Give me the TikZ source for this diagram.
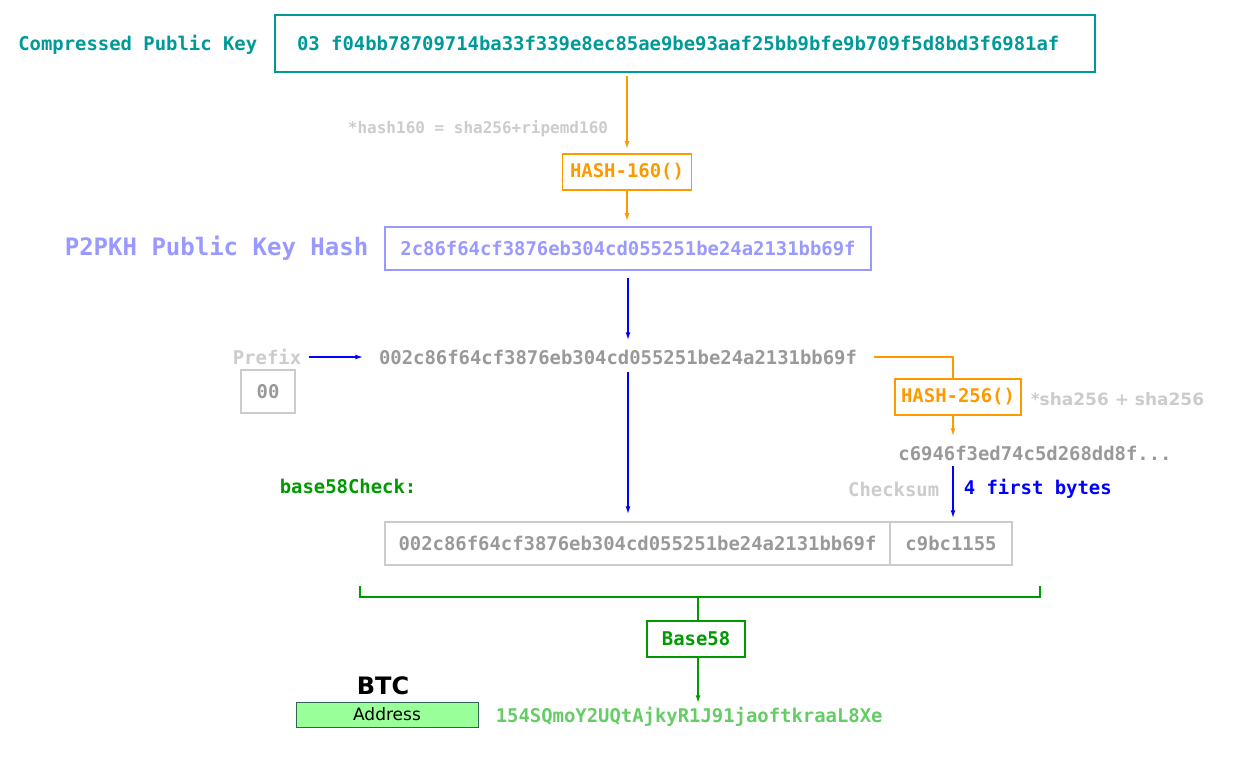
\documentclass[tikz,border=0pt]{standalone}
\usepackage{fontspec}
\setmainfont{DejaVu Sans}
\setmonofont{DejaVu Sans Mono}
\usepackage{xcolor}
\usepackage{tikz}
\usetikzlibrary{positioning}
\usetikzlibrary{calc}
\usetikzlibrary{arrows.meta}
\definecolor{keyteal}{RGB}{0,153,153}
\definecolor{hashorange}{RGB}{255,153,0}
\definecolor{pkhblue}{RGB}{153,153,255}
\definecolor{valgray}{RGB}{153,153,153}
\definecolor{notegray}{RGB}{204,204,204}
\definecolor{flowblue}{RGB}{0,0,255}
\definecolor{bsgreen}{RGB}{0,153,0}
\definecolor{addrgreen}{RGB}{102,204,102}
\definecolor{addrfill}{RGB}{153,255,153}
\newcommand{\fsz}[1]{\fontsize{#1}{#1}\selectfont}

\begin{document}
\begin{tikzpicture}[x=1pt, y=-1pt, ->, >={Latex[length=8pt,width=5pt]}, line width=1.5pt,
    mono/.style={font={\ttfamily\bfseries\fsz{18.9}}},
    hashbox/.style={mono, draw=hashorange, text=hashorange, inner sep=0pt, minimum height=36pt},
    databox/.style={mono, draw=notegray, text=valgray, inner sep=0pt, minimum height=43pt}]
    % Define the page
    \useasboundingbox (0,0) rectangle (1252,759);

    % Public key
    \node[mono, draw=keyteal, line width=2pt, text=keyteal, text width=776pt, align=left, inner xsep=22pt, inner ysep=0pt, minimum height=57pt] (cpk) at (685,43.5) {03\hspace{0.602em}f04bb78709714ba33f339e8ec85ae9be93aaf25bb9bfe9b709f5d8bd3f6981af};
    \node[mono, text=keyteal, anchor=east, inner sep=0pt] (cpklabel) at (258,45) {Compressed Public Key};

    % Hash 160
    \node[hashbox, minimum width=129pt] (h160) at (627,172) {HASH-160()};
    \node[font={\ttfamily\bfseries\fsz{16}}, text=notegray, inner sep=0pt] (h160note) at (478,129) {*hash160 = sha256+ripemd160};
    \node[mono, draw=pkhblue, text=pkhblue, minimum width=486pt, minimum height=43pt, inner sep=0pt] (pkh) at (628,248.5) {2c86f64cf3876eb304cd055251be24a2131bb69f};
    \node[font={\ttfamily\bfseries\fsz{24}}, text=pkhblue, anchor=east, inner sep=0pt] (pkhlabel) at (369,248) {P2PKH Public Key Hash};

    % Prefix
    \node[mono, text=notegray, inner sep=0pt] (prefix) at (267,357) {Prefix};
    \node[databox, minimum width=54pt] (pre00) at (268,391.5) {00};
    \node[mono, text=valgray, inner sep=0pt, minimum height=26pt] (ext) at (618,357) {002c86f64cf3876eb304cd055251be24a2131bb69f};

    % Hash 256 and checksum
    \node[hashbox, minimum width=126pt] (h256) at (958,397) {HASH-256()};
    \node[font={\bfseries\fsz{17}}, text=notegray, anchor=west, inner sep=0pt] (h256note) at (1030,399) {*sha256 + sha256};
    \node[mono, text=valgray, inner sep=0pt, minimum height=22pt] (dsha) at (1035,453) {c6946f3ed74c5d268dd8f...};
    \node[mono, text=notegray, anchor=east, inner sep=0pt] (cklabel) at (940,489) {Checksum};
    \node[mono, text=flowblue, anchor=west, inner sep=0pt] (cknote) at (963,489) {4 first bytes};

    % base58Check
    \node[mono, text=bsgreen, anchor=west, inner sep=0pt] (b58label) at (279,486) {base58Check:};
    \node[databox, minimum width=505pt] (dat) at (637.5,543.5) {002c86f64cf3876eb304cd055251be24a2131bb69f};
    \node[databox, minimum width=122pt] (chk) at (951,543.5) {c9bc1155};
    \node[mono, draw=bsgreen, text=bsgreen, minimum width=98pt, minimum height=36pt, inner sep=0pt] (b58) at (696,639) {Base58};
    \coordinate (brL) at (360,586);
    \coordinate (brR) at (1040,586);
    \coordinate (brM) at (698,597);
    \coordinate (hx) at (953,0);

    % Address
    \node[font={\bfseries\fsz{24}}, inner sep=0pt] (btc) at (383,686) {BTC};
    \node[draw={rgb,255:red,50;green,100;blue,80}, line width=1pt, fill=addrfill, minimum width=182pt, minimum height=25pt, inner sep=0pt, font=\fsz{17}] (addrbox) at (387,714.5) {Address};
    \node[mono, text=addrgreen, anchor=west, inner sep=0pt, minimum height=22pt] (addr) at (495,717) {154SQmoY2UQtAjkyR1J91jaoftkraaL8Xe};

    % Paths
    \draw[hashorange, shorten <=3pt, shorten >=4pt] (h160.north |- cpk.south) -- (h160.north); % key -> hash160
    \draw[hashorange, shorten >=5pt] (h160.south) -- (h160.south |- pkh.north); % hash160 -> pkh
    \draw[flowblue, shorten <=7pt, shorten >=3pt] (pkh.south) -- (pkh.south |- ext.north); % pkh -> ext
    \draw[flowblue, shorten <=7pt, shorten >=15pt] (prefix.east) -- (ext.west); % prefix -> ext
    \draw[hashorange, -] ([xshift=16pt]ext.east) -| (hx |- h256.north); % ext -> hash256
    \draw[hashorange, shorten >=5pt] (hx |- h256.south) -- (hx |- dsha.north); % hash256 -> digest
    \draw[flowblue, shorten <=1pt, shorten >=3pt] (hx |- dsha.south) -- (hx |- chk.north); % digest -> checksum
    \draw[flowblue, shorten <=1pt, shorten >=7pt] (pkh.south |- ext.south) -- (pkh.south |- dat.north); % ext -> data
    \draw[bsgreen, -] (brL) -- ++(0,11) -| (brR); % bracket
    \draw[bsgreen, -] (brM) -- (brM |- b58.north); % bracket -> base58
    \draw[bsgreen, shorten >=2pt] (b58.south -| brM) -- (brM |- addr.north); % base58 -> address
\end{tikzpicture}
\end{document}
